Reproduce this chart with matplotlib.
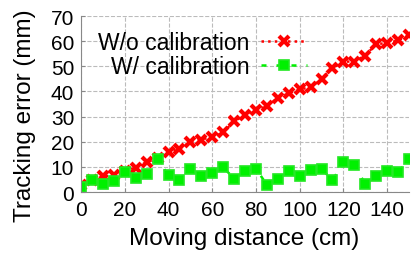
import matplotlib.pyplot as plt

plt.rcParams['font.family'] = ['Liberation Sans', 'DejaVu Sans']

distance = [0, 5, 10, 15, 20, 25, 30, 35, 40, 45, 50, 55, 60, 65, 70, 75,
            80, 85, 90, 95, 100, 105, 110, 115, 120, 125, 130, 135, 140, 145, 150]
err_without = [2.6, 4.6, 6.2, 6.6, 8.2, 9.7, 11.9, 13.5, 15.9, 17.2, 19.9, 20.9,
               21.9, 23.8, 28.1, 30.7, 32.5, 34.2, 37.4, 39.3, 40.8, 41.7, 45.0,
               49.3, 51.9, 51.9, 54.3, 58.9, 59.2, 60.3, 62.3]
err_with = [2.0, 4.6, 3.3, 4.2, 7.9, 5.6, 7.0, 13.2, 6.6, 4.9, 9.0, 6.2, 7.7,
            9.9, 5.3, 8.3, 9.3, 2.9, 5.0, 8.2, 6.4, 8.6, 9.3, 4.6, 11.9, 10.6,
            3.3, 6.4, 8.3, 7.9, 13.0]

fig = plt.figure(figsize=(4.16, 2.55), dpi=100)
ax = fig.add_axes([0.195, 0.243, 0.788, 0.69])

ax.plot(distance, err_without, color='#ff0000', linestyle=':', linewidth=1.8,
        marker='x', markersize=7.5, markeredgewidth=3, label='W/o calibration')
ax.plot(distance, err_with, color='#00f000', linestyle='--', linewidth=1.8,
        dashes=(2, 4), marker='s', markersize=7, markeredgewidth=1.2,
        markeredgecolor='#22e822', label='W/ calibration')

ax.set_xlim(0, 150)
ax.set_ylim(0, 70)
ax.set_xticks(range(0, 141, 20))
ax.set_yticks(range(0, 71, 10))
ax.tick_params(labelsize=15, direction='in', length=3, color='#888888')
ax.tick_params(axis='x', pad=6)
ax.tick_params(axis='y', pad=5)
ax.grid(True, color='#bbbbbb', linestyle='--', linewidth=0.8)
for s in ['top', 'right']:
    ax.spines[s].set_visible(False)
for s in ['left', 'bottom']:
    ax.spines[s].set_color('#888888')

ax.set_xlabel('Moving distance (cm)', fontsize=17.5, va='center')
ax.set_ylabel('Tracking error (mm)', fontsize=17.5, va='center')
ax.xaxis.set_label_coords(0.497, -0.262)
ax.yaxis.set_label_coords(-0.17, 0.44)

ax.legend(loc='upper left', markerfirst=False, frameon=False, fontsize=16.5,
          handlelength=2.0, handletextpad=0.5, labelspacing=0.05,
          borderaxespad=0.2, bbox_to_anchor=(0.01, 0.995))

fig.savefig('out.png', dpi=100)
